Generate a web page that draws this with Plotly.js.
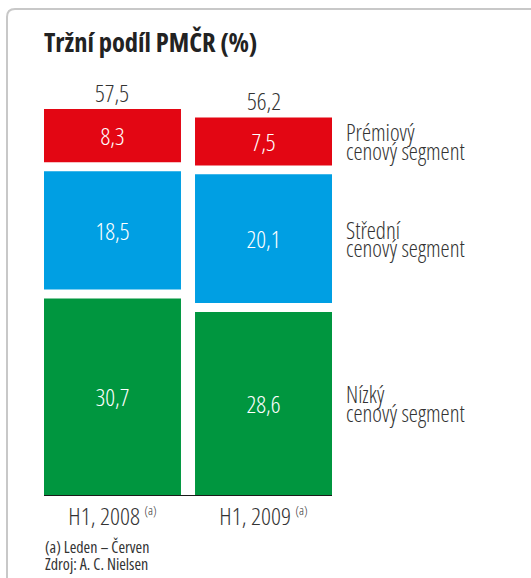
<!DOCTYPE html>
<html>
<head>
<meta charset="utf-8">
<script src="https://cdn.plot.ly/plotly-3.0.1.min.js"></script>
<style>
html,body{margin:0;padding:0;background:#fff;}
#chart{width:531px;height:578px;}
svg text{font-stretch:75%;}
</style>
</head>
<body>
<div id="chart"></div>
<script>
// ---- data ----
const categories = ['H1, 2008', 'H1, 2009'];
const tickLabels = ['H1, 2008 <sup><span style="font-size:13px">(a)</span></sup>', 'H1, 2009 <sup><span style="font-size:13px">(a)</span></sup>'];
const nizky = [30.7, 28.6];
const stredni = [18.5, 20.1];
const premiovy = [8.3, 7.5];
const totals = [57.5, 56.2];
const segmentLabels = [
  ['Prémiový', 'cenový segment'],
  ['Střední', 'cenový segment'],
  ['Nízký', 'cenový segment']
];
const titleText = 'Tržní podíl PMČR (%)';
const footnotes = ['(a) Leden – Červen', 'Zdroj: A. C. Nielsen'];

// ---- style ----
const FONT = '"Open Sans", "Liberation Sans Narrow", Roboto, sans-serif';
const GAP = 1.4;
const W = 531, H = 578;
const M = {l: 44, r: 199, t: 60, b: 83};
const PW = W - M.l - M.r, PH = H - M.t - M.b;
const YMAX = PH / 6.4;
const COLORS = {red: '#e30613', blue: '#009fe3', green: '#00963f'};
const fmt = v => v.toFixed(1).replace('.', ',');
const px2x = px => (px - M.l) / PW;
const py2y = py => (H - M.b - py) / PH;

const baseBlue = nizky.map(v => v + GAP);
const baseRed = nizky.map((v, i) => v + stredni[i] + 2 * GAP);

function barTrace(vals, base, color) {
  return {
    type: 'bar', x: categories, y: vals, base: base,
    marker: {color: color, line: {width: 0}},
    text: vals.map(fmt), textposition: 'inside', insidetextanchor: 'middle',
    textfont: {family: FONT, size: 24, weight: 300, color: '#ffffff'},
    hoverinfo: 'skip', showlegend: false
  };
}

const traces = [
  barTrace(nizky, nizky.map(() => 0), COLORS.green),
  barTrace(stredni, baseBlue, COLORS.blue),
  barTrace(premiovy, baseRed, COLORS.red)
];

const annotations = [];
categories.forEach((c, i) => {
  annotations.push({
    x: c, y: baseRed[i] + premiovy[i], xref: 'x', yref: 'y',
    text: fmt(totals[i]), showarrow: false, yanchor: 'middle', yshift: 17,
    font: {family: FONT, size: 24, weight: 300, color: '#333333'}
  });
});
const centers = [
  baseRed[1] + premiovy[1] / 2,
  baseBlue[1] + stredni[1] / 2,
  nizky[1] / 2
];
segmentLabels.forEach((lines, k) => {
  lines.forEach((ln, j) => {
    annotations.push({
      x: 1, xref: 'paper', y: centers[k], yref: 'y',
      text: ln, showarrow: false, xanchor: 'left', yanchor: 'middle',
      xshift: 12, yshift: j === 0 ? 9 : -9.5,
      font: {family: FONT, size: 23, weight: 300, color: '#333333'}
    });
  });
});
footnotes.forEach((t, j) => {
  annotations.push({
    x: 0, xref: 'paper', y: py2y(j === 0 ? 546.5 : 563.5), yref: 'paper',
    text: t, showarrow: false, xanchor: 'left', yanchor: 'middle', xshift: -1,
    font: {family: FONT, size: 16, weight: 400, color: '#333333'}
  });
});

const r = 8;
const L = px2x(7), T = py2y(9), B = py2y(640), R = px2x(600);
const framePath = `M ${L} ${B} L ${L} ${py2y(9 + r)} Q ${L} ${T} ${px2x(7 + r)} ${T} L ${R} ${T}`;

const layout = {
  width: W, height: H,
  margin: M,
  paper_bgcolor: '#ffffff', plot_bgcolor: '#ffffff',
  font: {family: FONT, color: '#333333'},
  barmode: 'overlay',
  bargap: 0.093,
  title: {
    text: titleText, xref: 'container', yref: 'container',
    x: 44 / W, xanchor: 'left', y: 1 - 42.5 / H, yanchor: 'middle',
    font: {family: FONT, size: 26.5, weight: 700, color: '#222222'}
  },
  xaxis: {
    type: 'category', range: [-0.4535, 1.4535],
    tickvals: categories, ticktext: tickLabels,
    showline: true, linecolor: '#1a1a1a', linewidth: 1,
    ticks: '', showgrid: false, zeroline: false,
    tickfont: {family: FONT, size: 24.5, weight: 300, color: '#333333'}
  },
  yaxis: {
    range: [0, YMAX], visible: false, showgrid: false, zeroline: false
  },
  annotations: annotations,
  shapes: [{
    type: 'path', xref: 'paper', yref: 'paper', path: framePath,
    line: {color: '#c8c8c8', width: 2}, layer: 'below'
  }]
};

Plotly.newPlot('chart', traces, layout, {displayModeBar: false, staticPlot: true});
</script>
</body>
</html>
